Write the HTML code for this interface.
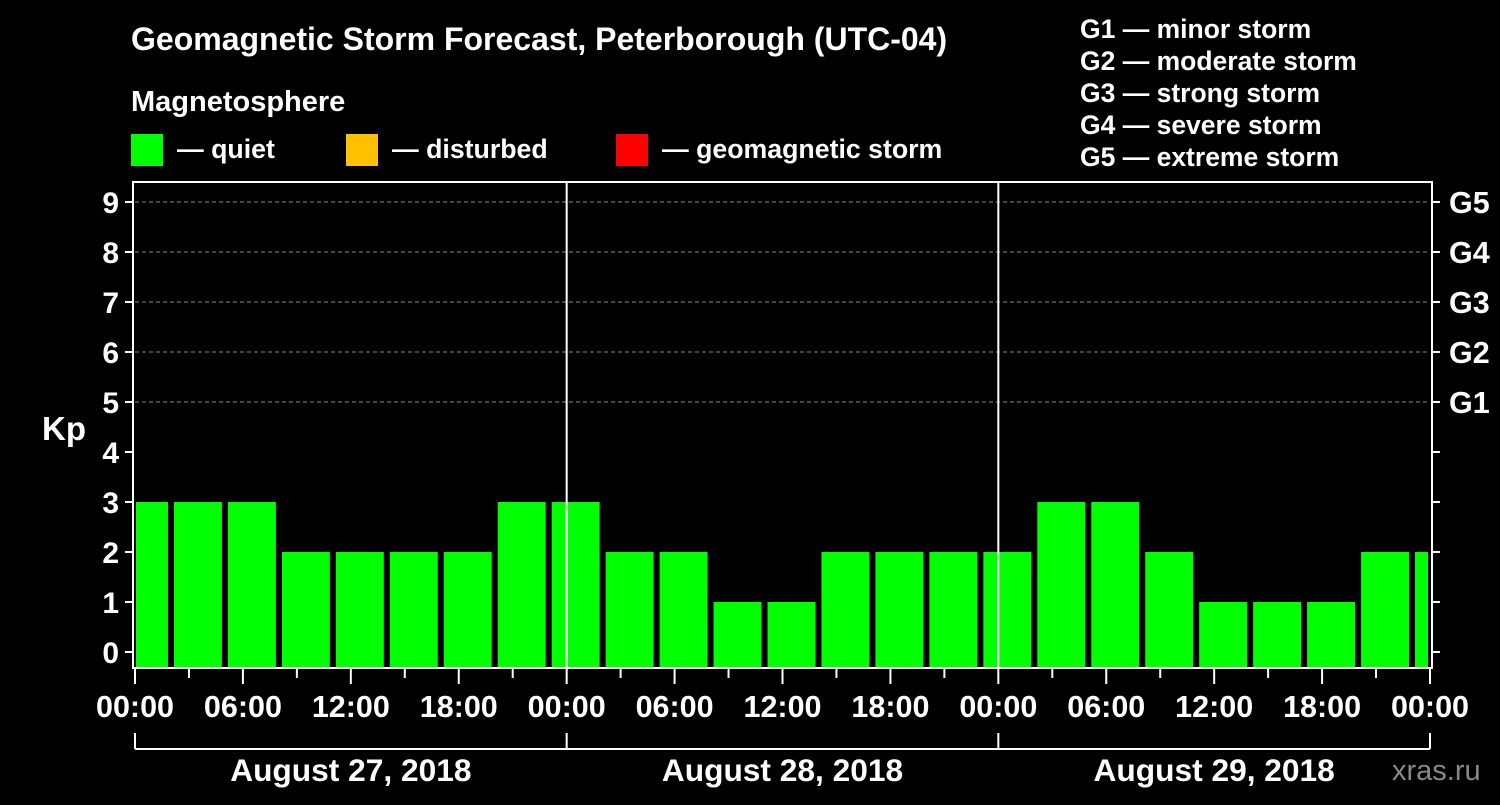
<!DOCTYPE html>
<html><head><meta charset="utf-8"><style>
body{margin:0;background:#000;width:1500px;height:800px;overflow:hidden}
svg text{font-family:"Liberation Sans",Arial,sans-serif;font-weight:bold;fill:#fff}
</style></head><body>
<svg id="chart" width="1500" height="800" viewBox="0 0 1500 800">
<text x="131" y="50" font-size="32">Geomagnetic Storm Forecast, Peterborough (UTC-04)</text>
<text x="131" y="111" font-size="29">Magnetosphere</text>
<g><rect x="131" y="134" width="32" height="32" fill="#00ff00"/><text x="177" y="158" font-size="26.7">— quiet</text></g>
<g><rect x="346" y="134" width="32" height="32" fill="#ffc000"/><text x="392" y="158" font-size="26.7">— disturbed</text></g>
<g><rect x="616" y="134" width="32" height="32" fill="#ff0000"/><text x="662" y="158" font-size="26.7">— geomagnetic storm</text></g>
<g font-size="26.5">
<text x="1080" y="38">G1 — minor storm</text><text x="1080" y="70">G2 — moderate storm</text><text x="1080" y="102">G3 — strong storm</text><text x="1080" y="134">G4 — severe storm</text><text x="1080" y="166">G5 — extreme storm</text></g>
<text x="42" y="440" font-size="33">Kp</text>
<text x="1392" y="780" font-size="29" style="fill:#888;font-weight:normal">xras.ru</text>
<g id="grid"></g><g id="bars"></g><g id="axes"></g>
</svg>
<script>
const kpValues=[3,3,3,2,2,2,2,3,3,2,2,1,1,2,2,2,2,3,3,2,1,1,1,2,2];
const startHour=-1;
const hourTicks=["00:00","06:00","12:00","18:00","00:00","06:00","12:00","18:00","00:00","06:00","12:00","18:00","00:00"];
const dayLabels=["August 27, 2018","August 28, 2018","August 29, 2018"];
const gLabels=["G1","G2","G3","G4","G5"];
const NS="http://www.w3.org/2000/svg";
const L=135,R=1430,T=182,B=668,totalH=72;
const x=h=>L+(R-L)*h/totalH;
const y=v=>652-50*v;
function mk(tag,attrs,parent,txt){const e=document.createElementNS(NS,tag);for(const k in attrs)e.setAttribute(k,attrs[k]);if(txt!==undefined)e.textContent=txt;parent.appendChild(e);return e;}
const grid=document.getElementById('grid'),bars=document.getElementById('bars'),axes=document.getElementById('axes');
for(let v=5;v<=9;v++){const l=mk('line',{x1:L,x2:R,y1:y(v),y2:y(v),stroke:'#888','stroke-dasharray':'4,3','stroke-width':1},grid);

}
kpValues.forEach((v,i)=>{let h0=startHour+3*i;let x0=Math.max(x(h0)+3,L+1),x1=Math.min(x(h0+3)-3,R-2);
const c=v>=5?'#ff0000':(v>=4?'#ffc000':'#00ff00');
const r=mk('rect',{x:x0,y:y(v),width:x1-x0,height:B-y(v),fill:c},bars);

});
for(let d=1;d<3;d++){const l=mk('line',{x1:x(24*d),x2:x(24*d),y1:T,y2:B,stroke:'#fff','stroke-width':2},axes);

}
const fr=mk('rect',{x:L-2,y:T,width:R-L+4,height:B-T,fill:'none',stroke:'#fff','stroke-width':2},axes);


for(let v=0;v<=9;v++){mk('line',{x1:L-10,x2:L-2,y1:y(v),y2:y(v),stroke:'#fff','stroke-width':2},axes);
mk('line',{x1:R+2,x2:R+10,y1:y(v),y2:y(v),stroke:'#fff','stroke-width':2},axes);
const t=mk('text',{x:L-16,y:y(v)+11,'font-size':30,'text-anchor':'end'},axes,String(v));

}
gLabels.forEach((g,i)=>{const t=mk('text',{x:R+19,y:y(5+i)+11,'font-size':30.5},axes,g);

});
for(let h=0;h<=totalH;h+=3){const major=h%6===0;mk('line',{x1:x(h),x2:x(h),y1:B,y2:B+(major?16:10),stroke:'#fff','stroke-width':2},axes);}
hourTicks.forEach((s,i)=>{const t=mk('text',{x:x(6*i),y:717,'font-size':30.5,'text-anchor':'middle'},axes,s);

});
mk('line',{x1:L,x2:R,y1:749,y2:749,stroke:'#fff','stroke-width':2},axes);
for(let d=0;d<=3;d++)mk('line',{x1:x(24*d),x2:x(24*d),y1:733,y2:749,stroke:'#fff','stroke-width':2},axes);
dayLabels.forEach((s,i)=>{const t=mk('text',{x:x(24*i+12),y:781,'font-size':31.7,'text-anchor':'middle'},axes,s);

});
</script>
</body></html>
